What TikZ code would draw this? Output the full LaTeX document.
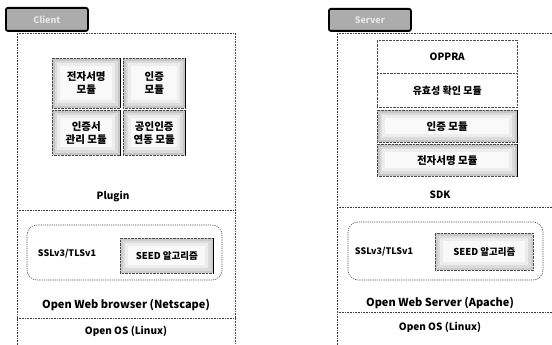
\documentclass[tikz,border=0pt]{standalone}
\usepackage{fontspec}
\setmainfont{Noto Sans CJK KR}
\usetikzlibrary{positioning}
\tikzset{
  dotline/.style={draw=black!75, line width=0.6pt, dash pattern=on 0.7pt off 0.9pt},
  tabbox/.style={draw=black, line width=1.8pt, rounded corners=2pt, fill=gray!65, inner sep=0pt, text=white!80!gray, font=\bfseries\fontsize{9}{10}\selectfont},
  glow/.style={path picture={
      \fill[gray!28] ([shift={(2.5pt,-2.5pt)}]path picture bounding box.north west) rectangle ([shift={(-2.5pt,2.5pt)}]path picture bounding box.south east);
      \fill[gray!14] ([shift={(5pt,-5pt)}]path picture bounding box.north west) rectangle ([shift={(-5pt,5pt)}]path picture bounding box.south east);
      \fill[gray!5] ([shift={(8pt,-8pt)}]path picture bounding box.north west) rectangle ([shift={(-8pt,8pt)}]path picture bounding box.south east);}},
  modbox/.style={draw=black!70, line width=0.5pt, dash pattern=on 0.7pt off 0.7pt, fill=gray!45, glow, inner sep=0pt, align=center, font=\bfseries\fontsize{10.5}{13}\selectfont},
  plainmod/.style={draw=black!70, line width=0.5pt, dash pattern=on 0.7pt off 0.7pt, fill=white, inner sep=0pt, align=center, font=\bfseries\fontsize{10}{12}\selectfont},
  seedbox/.style={draw=black!70, line width=0.6pt, dash pattern=on 0.7pt off 0.7pt, fill=gray!40, glow, inner sep=0pt, font=\bfseries\fontsize{9.5}{10}\selectfont},
  rbox/.style={draw=black!70, line width=0.6pt, dash pattern=on 1.2pt off 1pt, rounded corners=10pt},
  lbl/.style={inner sep=0pt, font=\bfseries\fontsize{10}{10}\selectfont},
  lblbig/.style={inner sep=0pt, font=\bfseries\fontsize{11}{11}\selectfont},
  shadowedge/.style={black, line width=1.6pt},
}
\begin{document}
\begin{tikzpicture}[x=1pt,y=-1pt]
\useasboundingbox (0,0) rectangle (552,345);
% ---------------- Client ----------------
\node[tabbox, minimum width=82pt, minimum height=23pt, anchor=north west] (ctab) at (5,7) {Client};
\draw[dotline] (17,345) -- (17,33) -- (235,33) -- (235,345);
\draw[dotline] (17,210) -- (235,210);
\draw[dotline] (17,318) -- (235,318);
\node[modbox, minimum width=68pt, minimum height=50pt, anchor=north west] (c1) at (52,58) {전자서명\\모듈};
\node[modbox, minimum width=62pt, minimum height=50pt, anchor=north west] (c2) at (123,58) {인증\\모듈};
\node[modbox, minimum width=68pt, minimum height=45pt, anchor=north west] (c3) at (52,110) {인증서\\관리 모듈};
\node[modbox, minimum width=62pt, minimum height=45pt, anchor=north west] (c4) at (123,110) {공인인증\\연동 모듈};
\foreach \n in {c1,c2,c3,c4}{\draw[shadowedge] (\n.north east) -- (\n.south east);}
\node[lbl] (cplug) at (113,197) {Plugin};
\draw[rbox] (27,225) rectangle (222,280);
\node[lbl, font=\bfseries\fontsize{9}{10}\selectfont] (cssl) at (67,254) {SSLv3/TLSv1};
\node[seedbox, minimum width=93pt, minimum height=35pt, anchor=north west] (cseed) at (120,238) {SEED 알고리즘};
\draw[shadowedge] (cseed.north east) -- (cseed.south east);
\node[lblbig] (cbrow) at (126,305) {Open Web browser (Netscape)};
\node[lbl] (cos) at (126,331) {Open OS (Linux)};
% ---------------- Server ----------------
\node[tabbox, minimum width=82pt, minimum height=22pt, anchor=north west] (stab) at (328,8) {Server};
\draw[dotline] (337,345) -- (337,33) -- (552,33);
\draw[dotline] (337,207) -- (552,207);
\draw[dotline] (337,312) -- (552,312);
\node[plainmod, minimum width=140pt, minimum height=33pt, anchor=north west] (s1) at (377,40) {OPPRA};
\node[plainmod, minimum width=140pt, minimum height=34pt, anchor=north west] (s2) at (377,73) {유효성 확인 모듈};
\node[modbox, minimum width=140pt, minimum height=32pt, anchor=north west] (s3) at (377,110) {인증 모듈};
\node[modbox, minimum width=140pt, minimum height=32pt, anchor=north west] (s4) at (377,144) {전자서명 모듈};
\foreach \n in {s3,s4}{\draw[shadowedge] (\n.north east) -- (\n.south east);}
\node[lbl] (ssdk) at (440,195) {SDK};
\draw[rbox] (348,222) rectangle (543,280);
\node[lbl, font=\bfseries\fontsize{9}{10}\selectfont] (sssl) at (384,252) {SSLv3/TLSv1};
\node[seedbox, minimum width=98pt, minimum height=37pt, anchor=north west] (sseed) at (435,233) {SEED 알고리즘};
\node[lblbig] (sweb) at (440,303) {Open Web Server (Apache)};
\node[lbl] (sos) at (440,327) {Open OS (Linux)};
\end{tikzpicture}
\end{document}
